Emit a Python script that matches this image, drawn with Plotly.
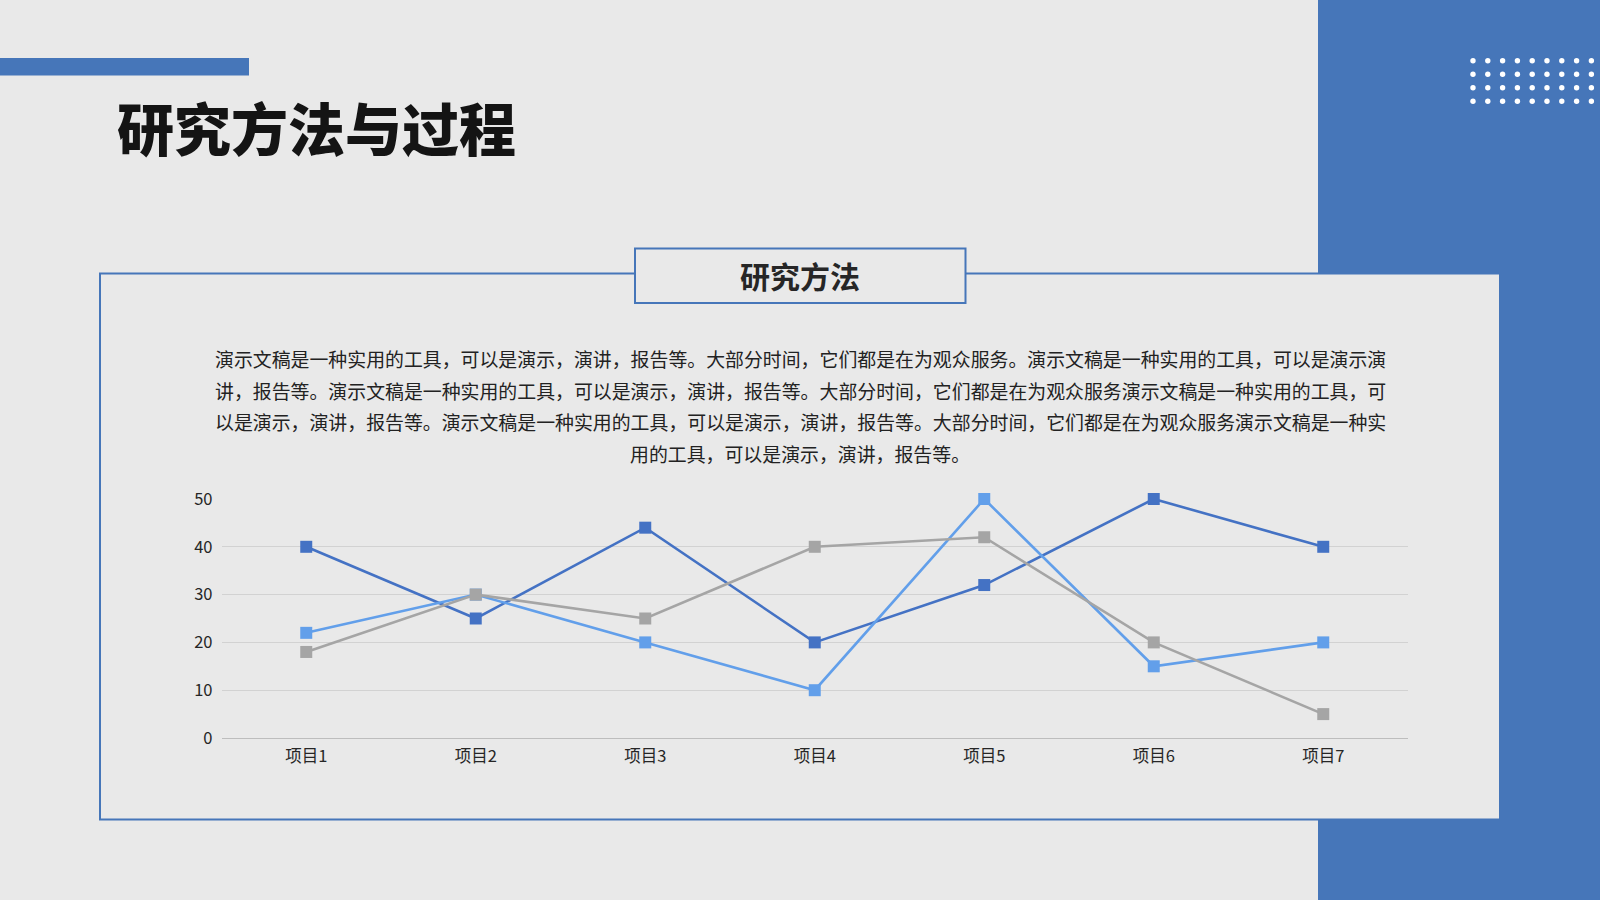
import plotly.graph_objects as go

# chart data
categories = ['项目1', '项目2', '项目3', '项目4', '项目5', '项目6', '项目7']
series_a = [40, 25, 44, 20, 32, 50, 40]
series_b = [22, 30, 20, 10, 50, 15, 20]
series_c = [18, 30, 25, 40, 42, 20, 5]
y_ticks = [0, 10, 20, 30, 40, 50]

title = '研究方法与过程'
box_title = '研究方法'
body_lines = [
    '演示文稿是一种实用的工具，可以是演示，演讲，报告等。大部分时间，它们都是在为观众服务。演示文稿是一种实用的工具，可以是演示演',
    '讲，报告等。演示文稿是一种实用的工具，可以是演示，演讲，报告等。大部分时间，它们都是在为观众服务演示文稿是一种实用的工具，可',
    '以是演示，演讲，报告等。演示文稿是一种实用的工具，可以是演示，演讲，报告等。大部分时间，它们都是在为观众服务演示文稿是一种实',
    '用的工具，可以是演示，演讲，报告等。',
]

W, H = 1600, 900
BG = '#E9E9E9'
BLUE = '#4676B9'
FONT = 'Noto Sans CJK SC'


def px(x):
    return x / W


def py(y):
    return 1 - y / H


fig = go.Figure()

colors = ['#4472C4', '#629FEA', '#A5A5A5']
for vals, col in zip([series_a, series_b, series_c], colors):
    fig.add_trace(go.Scatter(
        x=categories, y=vals, mode='lines+markers',
        line=dict(color=col, width=2.6),
        marker=dict(symbol='square', size=12, color=col),
        cliponaxis=False, showlegend=False,
    ))

shapes = []
# right blue panel
shapes.append(dict(type='rect', xref='paper', yref='paper', layer='below',
                   x0=px(1318), x1=1, y0=0, y1=1,
                   fillcolor=BLUE, line=dict(width=0)))
# top-left bar
shapes.append(dict(type='rect', xref='paper', yref='paper', layer='below',
                   x0=0, x1=px(249), y0=py(75.5), y1=py(58),
                   fillcolor=BLUE, line=dict(width=0)))
# dots in the panel
for r in range(4):
    for c in range(9):
        cx = 1473 + c * 14.8
        cy = 60.7 + r * 13.5
        shapes.append(dict(type='circle', xref='paper', yref='paper', layer='below',
                           x0=px(cx - 2.7), x1=px(cx + 2.7),
                           y0=py(cy + 2.7), y1=py(cy - 2.7),
                           fillcolor='white', line=dict(width=0)))
# main box
shapes.append(dict(type='rect', xref='paper', yref='paper', layer='below',
                   x0=px(100), x1=px(1500), y0=py(819.5), y1=py(273.5),
                   fillcolor=BG, line=dict(color=BLUE, width=2)))
# title box
shapes.append(dict(type='rect', xref='paper', yref='paper', layer='below',
                   x0=px(635), x1=px(965.5), y0=py(303), y1=py(248.5),
                   fillcolor=BG, line=dict(color=BLUE, width=2)))

annotations = [
    dict(text=title, x=px(115), y=py(126), xref='paper', yref='paper',
         xanchor='left', yanchor='middle', showarrow=False,
         font=dict(family=FONT, size=57, color='#141414', weight=900)),
    dict(text=box_title, x=px(800), y=py(275), xref='paper', yref='paper',
         xanchor='center', yanchor='middle', showarrow=False,
         font=dict(family=FONT, size=30, color='#262626', weight=700)),
]
for i, line in enumerate(body_lines):
    annotations.append(dict(text=line, x=px(800), y=py(358.5 + i * 31.6),
                            xref='paper', yref='paper', xanchor='center',
                            yanchor='middle', showarrow=False,
                            font=dict(family=FONT, size=18.9, color='#222222')))

fig.update_layout(
    width=W, height=H,
    margin=dict(l=0, r=0, t=0, b=0, autoexpand=False),
    paper_bgcolor=BG, plot_bgcolor='rgba(0,0,0,0)',
    shapes=shapes, annotations=annotations,
    showlegend=False,
    xaxis=dict(domain=[px(221.5), px(1408)], type='category',
               range=[-0.5, len(categories) - 0.5], automargin=False,
               showgrid=False, zeroline=False, showline=True,
               linecolor='#BDBDBD', linewidth=1.3, ticks='',
               ticklabelstandoff=3,
               tickfont=dict(family=FONT, size=16.5, color='#262626')),
    yaxis=dict(domain=[py(738), py(499)], range=[0, 50], automargin=False,
               tickvals=y_ticks, showgrid=True, gridcolor='#D2D2D2',
               gridwidth=1, zeroline=False, showline=False, ticks='',
               ticklabelstandoff=8,
               tickfont=dict(family=FONT, size=16.5, color='#262626')),
)

# page has a default body margin; drop it so the figure fills the window
fig.write_html('out.html', config={'displayModeBar': False},
               post_script="document.body.style.margin='0';document.body.style.overflow='hidden';")
